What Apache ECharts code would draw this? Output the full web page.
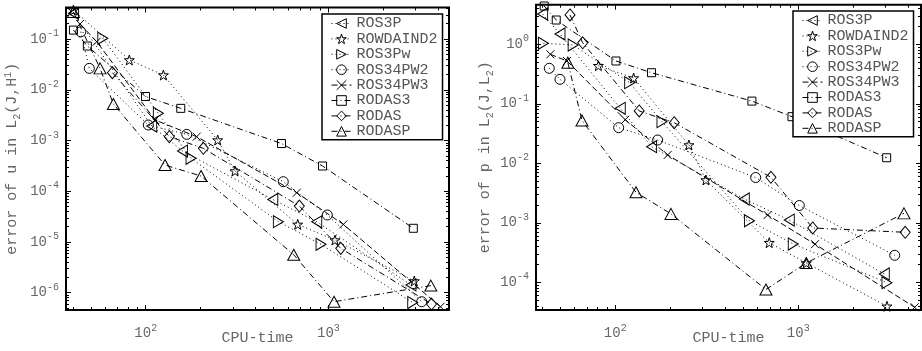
<!DOCTYPE html>
<html>
<head>
<meta charset="utf-8">
<title>error vs CPU-time</title>
<script src="https://cdn.jsdelivr.net/npm/echarts@6/dist/echarts.min.js"></script>
<style>
html, body { margin: 0; padding: 0; background: #fff; }
#chart { width: 922px; height: 351px; }
</style>
</head>
<body>
<div id="chart"></div>
<script>
// methods, legend order
const methods = ['ROS3P', 'ROWDAIND2', 'ROS3Pw', 'ROS34PW2', 'ROS34PW3', 'RODAS3', 'RODAS', 'RODASP'];

// left panel: [CPU-time, error of u in L2(J,H1)]
const uROS3P = [[40.2, 0.321], [107.8, 1.93e-3], [159, 6.2e-4], [496, 6.9e-5], [863, 2.5e-5], [2831, 1.42e-6]];
const uROWDAIND2 = [[40.2, 0.373], [81.3, 0.0386], [124.9, 0.0195], [247.7, 1.02e-3], [308, 2.5e-4], [679, 2.22e-5], [1086, 1.09e-5], [2951, 1.7e-6]];
const uROS3Pw = [[58.2, 0.103], [117.2, 3.43e-3], [177, 4.45e-4], [532, 2.51e-5], [911, 8.98e-6], [2893, 6.4e-7]];
const uROS34PW2 = [[44.1, 0.139], [49.1, 0.0264], [103.3, 2.02e-3], [167.6, 1.32e-3], [566, 1.54e-4], [986, 3.4e-5], [3241, 6.64e-7]];
const uROS34PW3 = [[43.7, 0.198], [53.9, 0.0885], [112.4, 2.53e-3], [190, 1.19e-3], [671, 9.33e-5], [1207, 2.22e-5], [4108, 5.28e-7]];
const uRODAS3 = [[40.2, 0.15], [47.9, 0.0727], [99.7, 7.35e-3], [155.5, 4.3e-3], [553.6, 8.71e-4], [928.5, 3.14e-4], [2915, 1.86e-5]];
const uRODAS = [[65.7, 0.0217], [134.6, 1.19e-3], [206.7, 7.0e-4], [693, 5.1e-5], [1168, 7.48e-6], [3667, 5.97e-7]];
const uRODASP = [[40.2, 0.34], [56.2, 0.0264], [66.5, 5.24e-3], [127.5, 3.28e-4], [200.8, 1.99e-4], [645.7, 5.6e-6], [1073, 6.64e-7], [3635, 1.38e-6]];

// right panel: [CPU-time, error of p in L2(J,L2)]
const pROS3P = [[40.1, 3.23], [49.9, 1.49], [106.5, 0.084], [158, 0.019], [507, 2.51e-3], [893, 1.11e-3], [2951, 1.38e-4]];
const pROWDAIND2 = [[80.9, 0.437], [126, 0.271], [252.7, 0.0203], [313, 5.24e-3], [694, 4.63e-4], [1106, 2.11e-4], [3052, 3.95e-5]];
const pROS3Pw = [[40.5, 1.04], [58.9, 0.973], [119.9, 0.226], [180, 0.05], [541, 1.08e-3], [939, 4.4e-4], [3052, 9.85e-5]];
const pROS34PW2 = [[43.6, 0.395], [49.9, 0.258], [104.4, 0.0397], [170.5, 0.0246], [585, 5.77e-3], [1013, 1.95e-3], [3364, 2.84e-4]];
const pROS34PW3 = [[44.2, 0.679], [54.5, 0.524], [113.4, 0.054], [193.4, 0.0138], [680, 1.35e-3], [1234, 4.37e-4], [4325, 3.8e-5]];
const pRODAS3 = [[40.9, 4.4], [47.6, 2.56], [100.9, 0.524], [157.7, 0.333], [558, 0.111], [924, 0.0607], [3041, 0.0124]];
const pRODAS = [[56.6, 3.11], [66.4, 1.06], [135.2, 0.0757], [210, 0.0481], [709, 5.82e-3], [1199, 8.18e-4], [3838, 6.92e-4]];
const pRODASP = [[55.1, 0.491], [65.8, 0.0524], [129.8, 3.26e-3], [201.6, 1.41e-3], [666, 7.57e-5], [1106, 2.11e-4], [3780, 1.44e-3]];

const uData = [uROS3P, uROWDAIND2, uROS3Pw, uROS34PW2, uROS34PW3, uRODAS3, uRODAS, uRODASP];
const pData = [pROS3P, pROWDAIND2, pROS3Pw, pROS34PW2, pROS34PW3, pRODAS3, pRODAS, pRODASP];

// tick labels
const xTicks = [100, 1000];
const uTicks = [1e-6, 1e-5, 1e-4, 1e-3, 1e-2, 1e-1];
const pTicks = [1e-4, 1e-3, 1e-2, 1e-1, 1];

const FONT = 'Liberation Mono';
const GREY = '#666';
const CLEAR = 'rgba(0,0,0,0)';

// marker + line style per method
const markers = {
  ROS3P: 'path://M0,6L11,0L11,12Z',
  ROWDAIND2: 'path://M5,0L6.2,3.6L10,3.6L7,5.9L8.1,9.5L5,7.3L1.9,9.5L3,5.9L0,3.6L3.8,3.6Z',
  ROS3Pw: 'path://M0,0L11,6L0,12Z',
  ROS34PW2: 'circle',
  ROS34PW3: 'path://M0,0L10,10M10,0L0,10',
  RODAS3: 'rect',
  RODAS: 'path://M5,0L10,6L5,12L0,6Z',
  RODASP: 'path://M6,0L12,11L0,11Z'
};
const sizes = {
  ROS3P: [10, 12], ROWDAIND2: 10, ROS3Pw: [10, 12], ROS34PW2: 10,
  ROS34PW3: 8, RODAS3: 8, RODAS: [10, 12], RODASP: [12, 11]
};
const DOT = [1, 3], DASH = [6, 3], DASHDOT = [6, 3, 1, 3];
const dashes = {
  ROS3P: DOT, ROWDAIND2: DOT, ROS3Pw: DOT, ROS34PW2: DOT,
  ROS34PW3: DASH, RODAS3: DASHDOT, RODAS: DASHDOT, RODASP: DASHDOT
};

function minorTicks(lo, hi) {
  const out = [];
  for (let e = lo; e <= hi; e++) {
    for (let m = 2; m <= 9; m++) out.push(m * Math.pow(10, e));
  }
  return out;
}

function powLabel(v) {
  return '{b|10}{s|' + Math.round(Math.log10(v)) + '}';
}

const labelRich = {
  b: { fontFamily: FONT, fontSize: 14, color: GREY },
  s: { fontFamily: FONT, fontSize: 10, color: GREY, padding: [0, 0, 11, 0] }
};

// one axis (major or minor ticks) on one side of a grid
function axis(gridIndex, min, max, position, ticks, len, labels, margin) {
  return {
    type: 'log',
    gridIndex: gridIndex,
    min: min,
    max: max,
    position: position,
    axisLine: { show: false, onZero: false },
    splitLine: { show: false },
    minorTick: { show: false },
    axisTick: { inside: true, length: len, customValues: ticks, lineStyle: { color: '#000', width: 1 } },
    axisLabel: labels
      ? { customValues: ticks, formatter: powLabel, rich: labelRich, margin: margin }
      : { show: false }
  };
}

// main axis with labels + minor ticks, and the mirrored ticks on the far side
function axisSet(dim, gridIndex, min, max, major, minor, name, nameGap) {
  const first = dim === 'x' ? 'bottom' : 'left';
  const second = dim === 'x' ? 'top' : 'right';
  const main = axis(gridIndex, min, max, first, major, 5, true, dim === 'x' ? 13 : 7);
  main.name = name;
  main.nameLocation = 'middle';
  main.nameGap = nameGap;
  main.nameMoveOverlap = false;
  main.nameTextStyle = {
    fontFamily: FONT, fontSize: 15, color: GREY,
    rich: {
      sub: { fontFamily: FONT, fontSize: 10, color: GREY, padding: [9, 0, 0, 0] },
      sup: { fontFamily: FONT, fontSize: 10, color: GREY, padding: [0, 0, 9, 0] }
    }
  };
  if (dim === 'y') main.nameRotate = 90;
  return [
    main,
    axis(gridIndex, min, max, first, minor, 3, false),
    axis(gridIndex, min, max, second, major, 5, false),
    axis(gridIndex, min, max, second, minor, 3, false)
  ];
}

const xMinor = minorTicks(1, 3);

const xAxes = [].concat(
  axisSet('x', 0, 36.6, 4571, xTicks, xMinor, 'CPU-time', 21),
  axisSet('x', 1, 36.9, 4683, xTicks, xMinor, 'CPU-time', 21)
);
const yAxes = [].concat(
  axisSet('y', 0, 4.56e-7, 0.418, uTicks, minorTicks(-7, -1), 'error of u in L{sub|2}(J,H{sup|1})', 44),
  axisSet('y', 1, 3.42e-5, 4.63, pTicks, minorTicks(-5, 0), 'error of p in L{sub|2}(J,L{sub|2})', 41)
);

function makeSeries(data, panel) {
  return methods.map((name, i) => ({
    name: name,
    type: 'line',
    xAxisIndex: panel * 4,
    yAxisIndex: panel * 4,
    data: data[i],
    symbol: markers[name],
    symbolSize: sizes[name],
    showAllSymbol: true,
    lineStyle: { color: '#000', width: 1, type: dashes[name] },
    itemStyle: { color: CLEAR, borderColor: '#000', borderWidth: 1 },
    emphasis: { disabled: true }
  }));
}

function legendAt(left, top) {
  return {
    data: methods,
    orient: 'vertical',
    left: left,
    top: top,
    padding: [2, 5, 1, 9],
    itemWidth: 20,
    itemHeight: 12,
    itemGap: 0.4,
    backgroundColor: '#fff',
    borderColor: '#000',
    borderWidth: 1.5,
    selectedMode: false,
    itemStyle: { color: CLEAR, borderColor: '#000', borderWidth: 1 },
    lineStyle: { color: '#000', width: 1 },
    textStyle: { fontFamily: FONT, fontSize: 15, color: '#555' }
  };
}

const chart = echarts.init(document.getElementById('chart'));
chart.setOption({
  animation: false,
  backgroundColor: '#fff',
  grid: [
    { left: 66, top: 7.5, width: 383, height: 302.5, show: true, borderColor: '#000', borderWidth: 2, backgroundColor: 'transparent' },
    { left: 536, top: 4.7, width: 385, height: 305.3, show: true, borderColor: '#000', borderWidth: 2, backgroundColor: 'transparent' }
  ],
  legend: [legendAt(322, 14), legendAt(793, 11)],
  xAxis: xAxes,
  yAxis: yAxes,
  series: makeSeries(uData, 0).concat(makeSeries(pData, 1))
});
</script>
</body>
</html>
